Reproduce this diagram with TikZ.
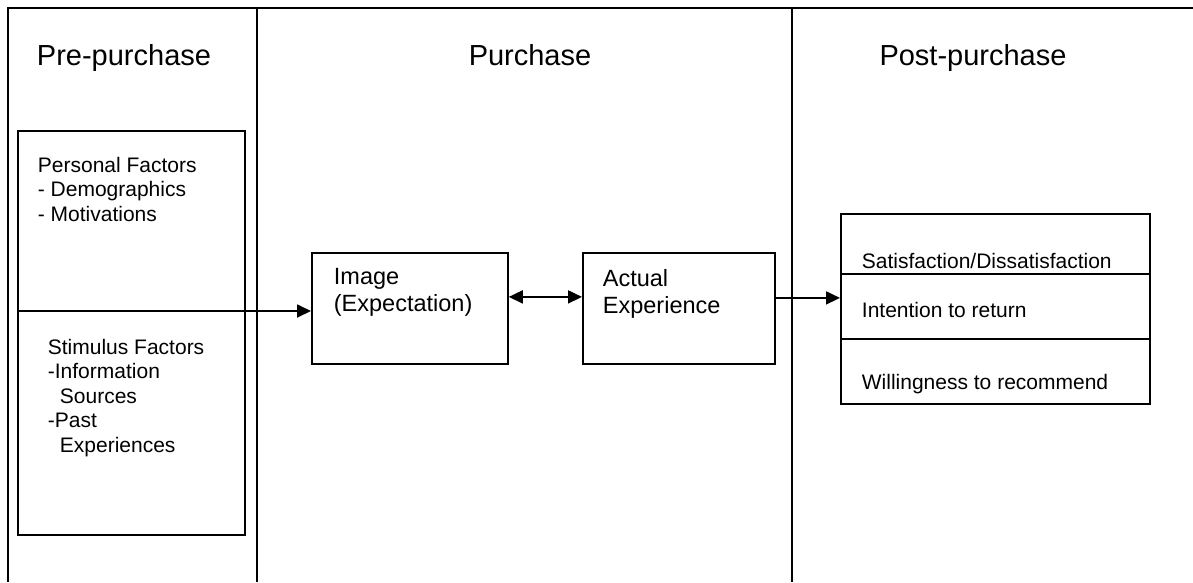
\documentclass[tikz,border=0pt]{standalone}
\usepackage{fontspec}
\setmainfont{Liberation Sans}
\usetikzlibrary{arrows.meta}
\begin{document}
\begin{tikzpicture}[x=1pt, y=-1pt, line width=1.8pt, line join=miter,
  >={Triangle[length=14pt,width=13pt]},
  box/.style={draw, rectangle, anchor=north west, inner sep=0pt},
  txt/.style={anchor=base west, inner sep=0pt, align=left},
  title/.style={anchor=base, inner sep=0pt, font=\fontsize{29}{34}\selectfont},
  small/.style={txt, font=\fontsize{21}{24.5}\selectfont},
  mid/.style={txt, font=\fontsize{23.5}{26.5}\selectfont}]
\useasboundingbox (0,0) rectangle (1193,582);
% Khung và các cột
\draw (8,582) -- (8,8) -- (1193,8);
\draw (257,8) -- (257,582);
\draw (792,8) -- (792,582);
% Tiêu đề các giai đoạn
\node[title] (pre) at (124,65) {Pre-purchase};
\node[title] (pur) at (530,65) {Purchase};
\node[title] (post) at (973,65) {Post-purchase};
% Các hộp
\node[box, minimum width=227pt, minimum height=404pt] (factors) at (17,130) {};
\node[box, minimum width=196pt, minimum height=111pt] (image) at (311,252) {};
\node[box, minimum width=192pt, minimum height=111pt] (actual) at (582,252) {};
\node[box, minimum width=309pt, minimum height=60pt] (satis) at (840,213) {};
\node[box, minimum width=309pt, minimum height=65pt] (intent) at (840,273) {};
\node[box, minimum width=309pt, minimum height=65pt] (willing) at (840,338) {};
% Chữ trong hộp (base = dòng cuối)
\node[small] (personal) at (37,221) {Personal Factors\\- Demographics\\- Motivations};
\node[small] (stimulus) at (47,452) {Stimulus Factors\\-Information\\\hspace{12pt}Sources\\-Past\\\hspace{12pt}Experiences};
\node[mid] (imagetxt) at (333,311) {Image\\(Expectation)};
\node[mid] (actualtxt) at (602,313) {Actual\\Experience};
\node[small] (satistxt) at (861,268) {Satisfaction/Dissatisfaction};
\node[small] (intenttxt) at (861,317) {Intention to return};
\node[small] (willingtxt) at (861,389) {Willingness to recommend};
% Mũi tên
\coordinate (split) at (17,311);
\draw[->] (split) -- (split -| image.west);
\draw[<->] ([yshift=11.5pt]image.east) -- ([yshift=11.5pt]actual.west);
\draw[->] ([yshift=10.5pt]actual.east) -- ([yshift=10.5pt]actual.east -| satis.west);
\end{tikzpicture}
\end{document}
